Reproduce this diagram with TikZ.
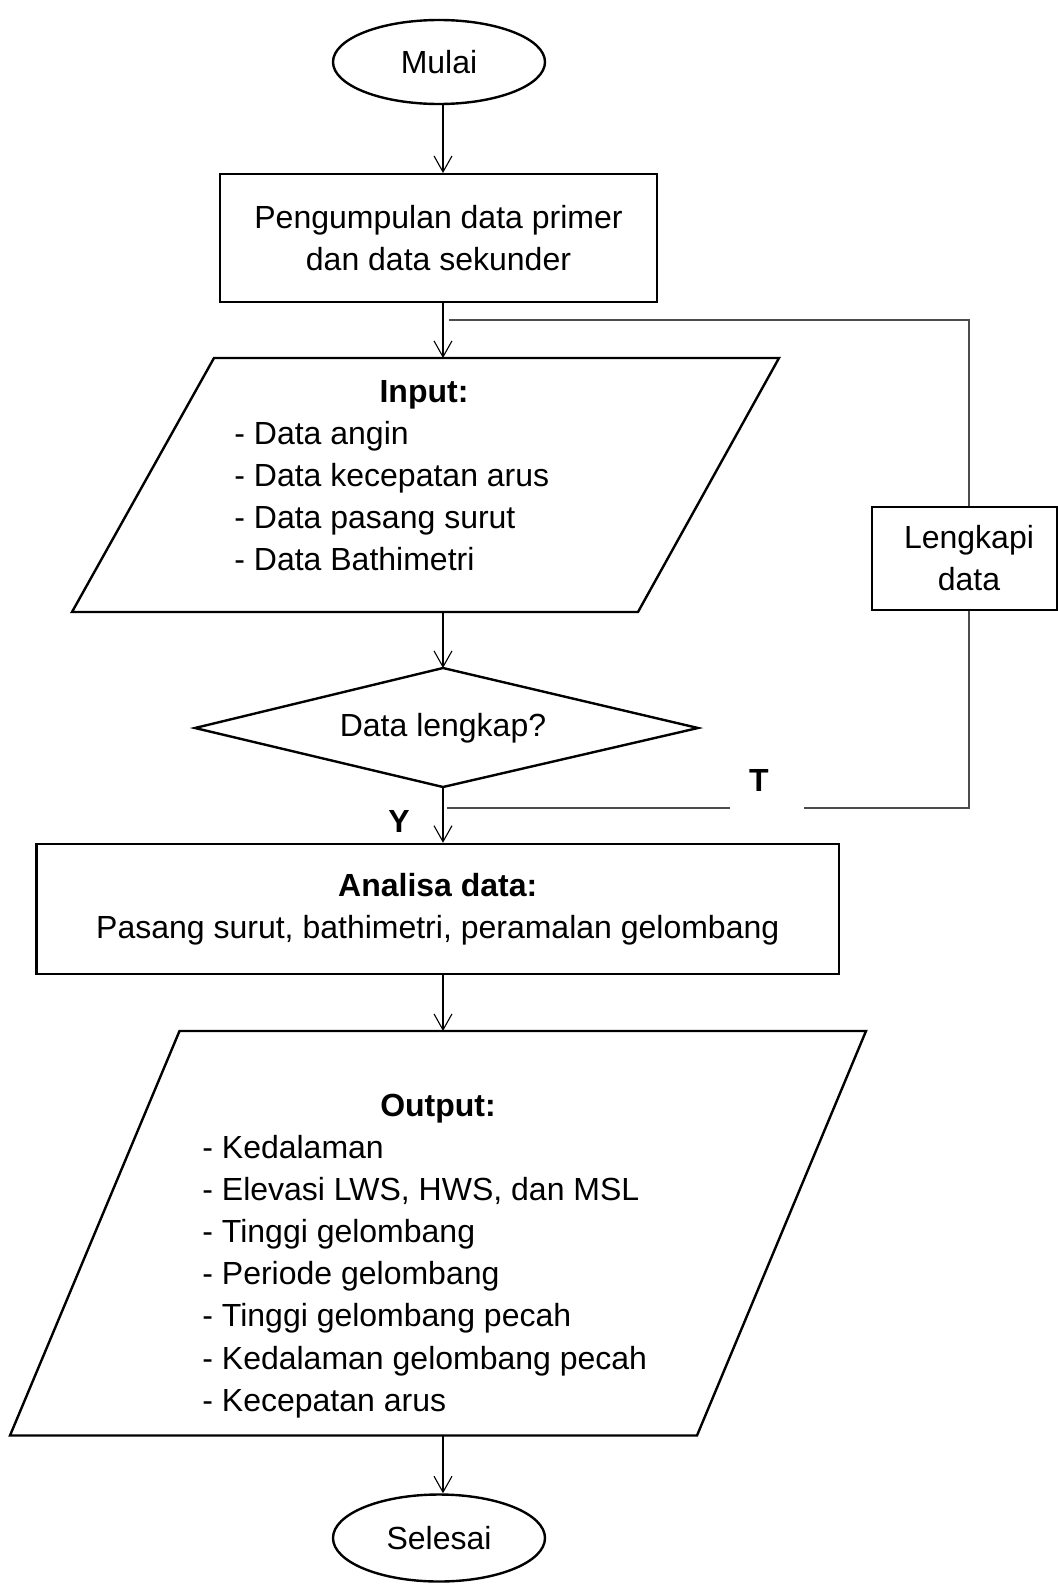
\documentclass[tikz,border=0pt]{standalone}
\usepackage{fontspec}
\setmainfont{Liberation Sans}
\usetikzlibrary{arrows.meta,shapes.geometric}
\begin{document}
\begin{tikzpicture}[x=0.5pt,y=-0.5pt,
  box/.style={draw, line width=1.2pt, inner sep=0pt, align=center, font=\fontsize{16}{21}\selectfont},
  oval/.style={draw, ellipse, line width=1.2pt, inner sep=0pt, font=\fontsize{16}{21}\selectfont, minimum width=106pt, minimum height=42pt},
  outline/.style={draw, line width=1.2pt, line join=miter},
  txt/.style={inner sep=0pt, font=\fontsize{16}{21}\selectfont},
  conn/.style={line width=0.55pt, -{Straight Barb[length=8pt,width=9pt,line width=0.55pt]}},
  fb/.style={line width=0.75pt, draw=black!70},
]
\useasboundingbox (0,0) rectangle (1058,1590);
\coordinate (col) at (443,0);

% start
\node[oval] (mulai) at (439,62) {Mulai};

% collect
\node[box, minimum width=218.5pt, minimum height=63.75pt] (kumpul) at (438.5,238)
  {Pengumpulan data primer\\dan data sekunder};

% input parallelogram
\draw[outline] (214,358) -- (779,358) -- (638,612) -- (72,612) -- cycle;
\coordinate (intop) at (443,358);
\coordinate (inbot) at (443,612);
\node[txt, anchor=base, font=\fontsize{16}{21}\selectfont\bfseries] (inputT) at (424,402) {Input:};
\node[txt, anchor=base west] (in1) at (234,444) {- Data angin};
\node[txt, anchor=base west] (in2) at (234,486) {- Data kecepatan arus};
\node[txt, anchor=base west] (in3) at (234,528) {- Data pasang surut};
\node[txt, anchor=base west] (in4) at (234,570) {- Data Bathimetri};

% decision
\draw[outline] (443,668) -- (698,728) -- (443,787) -- (195,728) -- cycle;
\coordinate (dtop) at (443,668);
\coordinate (dbot) at (443,787);
\node[txt] (dtext) at (443,728) {Data lengkap?};

% complete data box
\node[box, minimum width=92.25pt, minimum height=51.5pt] (lengkapi) at (964.5,558.5) {};
\node[txt, align=center] (lengkapiT) at (969,558.5) {Lengkapi\\data};

% analysis
\node[box, minimum width=401.25pt, minimum height=65pt] (analisa) at (437.75,909)
  {\textbf{Analisa data:}\\Pasang surut, bathimetri, peramalan gelombang};

% output parallelogram
\draw[outline] (179.5,1031) -- (866,1031) -- (697,1435.5) -- (10,1435.5) -- cycle;
\coordinate (outtop) at (443,1031);
\coordinate (outbot) at (443,1435.5);
\node[txt, anchor=base, font=\fontsize{16}{21}\selectfont\bfseries] (outputT) at (438,1116) {Output:};
\node[txt, anchor=base west] (o1) at (202,1158) {- Kedalaman};
\node[txt, anchor=base west] (o2) at (202,1200) {- Elevasi LWS, HWS, dan MSL};
\node[txt, anchor=base west] (o3) at (202,1242) {- Tinggi gelombang};
\node[txt, anchor=base west] (o4) at (202,1284) {- Periode gelombang};
\node[txt, anchor=base west] (o5) at (202,1326) {- Tinggi gelombang pecah};
\node[txt, anchor=base west] (o6) at (202,1369) {- Kedalaman gelombang pecah};
\node[txt, anchor=base west] (o7) at (202,1411) {- Kecepatan arus};

% end
\node[oval, minimum height=43.5pt] (selesai) at (439,1538) {Selesai};

% labels
\node[txt, font=\fontsize{16}{21}\selectfont\bfseries] (lblT) at (759,780) {T};
\node[txt, font=\fontsize{16}{21}\selectfont\bfseries] (lblY) at (399,821) {Y};

% main connectors
\draw[conn] (col |- mulai.south) -- (col |- kumpul.north);
\draw[conn] (col |- kumpul.south) -- (intop);
\draw[conn] (inbot) -- (dtop);
\draw[conn] (dbot) -- (col |- analisa.north);
\draw[conn] (col |- analisa.south) -- (outtop);
\draw[conn] (outbot) -- (col |- selesai.north);

% feedback loop
\coordinate (gapR) at (804,808);
\coordinate (gapL) at (730,808);
\coordinate (loopTop) at (969,320);
\draw[fb] (loopTop |- lengkapi.north) -- (loopTop) -- ([xshift=3]col |- loopTop);
\draw[fb] (loopTop |- lengkapi.south) |- (gapR);
\draw[fb] (gapL) -- ([xshift=2]col |- gapL);
\end{tikzpicture}
\end{document}
